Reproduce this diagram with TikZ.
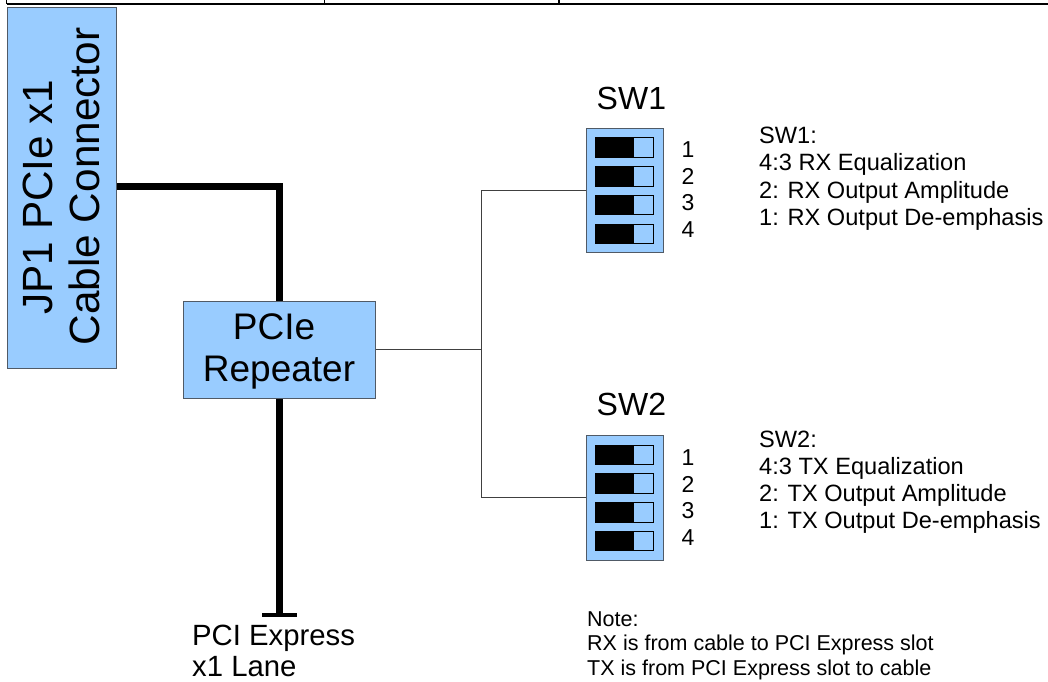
\documentclass[tikz,border=0pt]{standalone}
\usepackage{fontspec}
\setmainfont{Liberation Sans}
\definecolor{boxblue}{HTML}{99CCFF}
\definecolor{boxedge}{HTML}{505A66}
\newcommand{\fs}[1]{\fontsize{#1}{#1}\selectfont}
\tikzset{
 x=1pt,y=-1pt,
 bluebox/.style={draw=boxedge,fill=boxblue,line width=1pt,inner sep=0pt,align=center},
 bus/.style={line width=7pt,draw=black},
 wire/.style={line width=1pt,draw=black!75},
 rule/.style={line width=1.2pt,draw=black},
 lbl/.style={inner sep=0pt,align=left,anchor=north west},
 vtext/.style={rotate=90,anchor=base,font=\fs{42.3},inner sep=0pt},
 knob/.style={draw=black,line width=.9pt,fill=boxblue,minimum width=58pt,minimum height=19.5pt,inner sep=0pt},
 num/.style={inner sep=0pt,anchor=east,font=\fs{23}},
}
\newcommand{\dipswitch}[2]{% name, top y
 \node[bluebox,minimum width=77pt,minimum height=124.5pt,anchor=north west] (#1) at (586,#2) {};
 \foreach \i/\d/\n in {0/0/1,1/28.8/2,2/57.6/3,3/86.4/4}{
  \node[knob,anchor=north west] (#1k\n) at (595,#2+9.5+\d) {};
  \fill[black] (#1k\n.north west) rectangle ([xshift=-19.5pt]#1k\n.south east);
 }
}
\begin{document}
\begin{tikzpicture}
\useasboundingbox (0,0) rectangle (1048,681);
% table remnant at top
\coordinate (ta) at (6.5,4); \coordinate (tb) at (1048,4);
\coordinate (t1) at (6.5,0); \coordinate (t2) at (324.5,0); \coordinate (t3) at (559,0);
\draw[rule] (ta) -- (tb);
\draw[rule] (t1) -- (t1|-ta);
\draw[rule] (t2) -- (t2|-ta);
\draw[rule] (t3) -- (t3|-ta);
% connector
\node[bluebox,minimum width=109.5pt,minimum height=361pt,anchor=north west] (jp) at (6.5,7) {};
\node[vtext] (jpa) at (52,197) {JP1 PCIe x1};
\node[vtext] (jpb) at (99,186.5) {Cable Connector};
% repeater
\node[bluebox,minimum width=192pt,minimum height=97pt,anchor=north west] (rep) at (183,301) {};
\node[align=center,font=\fs{37},inner sep=0pt] (rept) at (279,351) {PCIe\hspace*{10pt}\\[5pt]Repeater};
% buses
\coordinate (busc) at (279.5,186);
\coordinate (busend) at (279.5,615);
\coordinate (capl) at (262,615); \coordinate (capr) at (297,615);
\draw[bus] (jp.east|-busc) -- (busc) -- (rep.north-|busc);
\draw[bus] (rep.south-|busc) -- (busend);
\draw[line width=4.5pt] (capl) -- (capr);
% switches
\dipswitch{swa}{127.7}
\dipswitch{swb}{435}
\coordinate (jun) at (481,349);
\draw[wire] (rep.east|-jun) -- (jun);
\draw[wire] (swa.west|-0,190) -- (481,190) -- (481,497) -- (swb.west|-0,497);
\node[lbl,font=\fs{32}] (swal) at (596.5,87) {SW1};
\node[lbl,font=\fs{32}] (swbl) at (596.5,393) {SW2};
\begin{scope}
\clip (665,120) rectangle (693,570);
\foreach \s/\y in {a/150,b/458}{
 \node[num] (n\s1) at (694.5,\y) {1};
 \node[num] (n\s2) at (694.5,\y+26.5) {2};
 \node[num] (n\s3) at (694.5,\y+53) {3};
 \node[num] (n\s4) at (694.5,\y+79.5) {4};
}
\end{scope}
\node[lbl,font=\fs{23.6}] (swat) at (759,127) {SW1:\\[3.7pt]4:3 RX Equalization\\[3.7pt]2: RX Output Amplitude\\[3.7pt]1: RX Output De-emphasis};
\node[lbl,font=\fs{23.6}] (swbt) at (759,431) {SW2:\\[3.2pt]4:3 TX Equalization\\[3.2pt]2: TX Output Amplitude\\[3.2pt]1: TX Output De-emphasis};
\node[lbl,font=\fs{29.3}] (pci) at (192,625) {PCI Express\\[1.5pt]x1 Lane};
\node[lbl,font=\fs{21.5}] (note) at (587,611) {Note:\\[3pt]RX is from cable to PCI Express slot\\[3pt]TX is from PCI Express slot to cable};
\end{tikzpicture}
\end{document}
